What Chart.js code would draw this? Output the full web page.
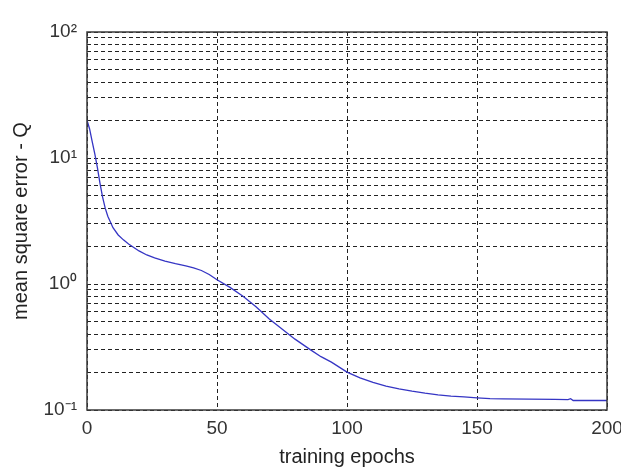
<!DOCTYPE html>
<html lang="en">
<head>
    <meta charset="UTF-8">
    <title>Training error</title>
    <script src="https://cdn.jsdelivr.net/npm/chart.js"></script>
    <style>
        html, body {
            margin: 0;
            padding: 0;
            background: #fff;
        }
        #chart {
            display: block;
        }
    </style>
</head>
<body>
    <canvas id="chart" width="621" height="472"></canvas>

    <script>
        // values
        const epochs = [0, 1, 2, 3, 4, 5, 6, 7, 8, 10, 12, 14, 16, 18, 20, 23, 26, 30, 34, 38, 41, 44, 47,
            50, 55, 60, 65, 70, 75, 80, 86, 90, 94, 100, 105, 110, 115, 120, 125, 130, 135, 140, 145,
            150, 155, 160, 170, 180, 185, 186, 187, 190, 200];
        const mse = [20, 17, 13.5, 10.8, 8.4, 6.3, 4.9, 4.0, 3.45, 2.8, 2.45, 2.24, 2.08, 1.95, 1.83, 1.7, 1.61,
            1.52, 1.45, 1.39, 1.34, 1.28, 1.19, 1.08, 0.94, 0.8, 0.66, 0.53, 0.44, 0.365, 0.30, 0.265, 0.24,
            0.2, 0.18, 0.166, 0.155, 0.147, 0.141, 0.136, 0.132, 0.129, 0.127, 0.125, 0.123, 0.1225,
            0.122, 0.1215, 0.121, 0.123, 0.119, 0.119, 0.119];

        const xTicks = [0, 50, 100, 150, 200];
        const yTicks = [0.1, 0.2, 0.3, 0.4, 0.5, 0.6, 0.7, 0.8, 0.9,
            1, 2, 3, 4, 5, 6, 7, 8, 9,
            10, 20, 30, 40, 50, 60, 70, 80, 90, 100];
        const yLabels = { 0.1: '10⁻¹', 1: '10⁰', 10: '10¹', 100: '10²' };

        const tickFont = { family: "'Liberation Sans', Arial, sans-serif", size: 19 };
        const titleFont = { family: "'Liberation Sans', Arial, sans-serif", size: 20 };

        // MATLAB style closed box around the axes
        const boxPlugin = {
            id: 'box',
            afterDatasetsDraw(chart) {
                const a = chart.chartArea;
                const ctx = chart.ctx;
                ctx.save();
                ctx.strokeStyle = '#3a3a3a';
                ctx.lineWidth = 1.5;
                ctx.strokeRect(a.left, a.top, a.right - a.left, a.bottom - a.top);
                ctx.restore();
            }
        };

        const ctx = document.getElementById('chart').getContext('2d');
        new Chart(ctx, {
            type: 'line',
            data: {
                datasets: [{
                    label: 'mse',
                    data: epochs.map((e, i) => ({ x: e, y: mse[i] })),
                    borderColor: '#3535c4',
                    borderWidth: 1.3,
                    pointRadius: 0,
                    tension: 0,
                    fill: false
                }]
            },
            options: {
                responsive: false,
                animation: false,
                layout: { padding: { top: 32, right: 14, left: 0, bottom: 0 } },
                plugins: {
                    legend: { display: false },
                    tooltip: { enabled: false }
                },
                scales: {
                    x: {
                        type: 'linear',
                        min: 0,
                        max: 200,
                        afterBuildTicks(scale) {
                            scale.ticks = xTicks.map(v => ({ value: v }));
                        },
                        afterFit(scale) {
                            scale.height = 62;
                            scale.paddingLeft = 0;
                            scale.paddingRight = 0;
                        },
                        border: { display: false, dash: [4, 3] },
                        grid: {
                            color: '#222',
                            lineWidth: 1,
                            drawTicks: false
                        },
                        ticks: {
                            padding: 7,
                            color: '#333',
                            font: tickFont,
                            maxRotation: 0
                        },
                        title: {
                            display: true,
                            text: 'training epochs',
                            color: '#222',
                            font: titleFont,
                            padding: { top: 0, bottom: 3 }
                        }
                    },
                    y: {
                        type: 'logarithmic',
                        min: 0.1,
                        max: 100,
                        afterBuildTicks(scale) {
                            scale.ticks = yTicks.map(v => ({ value: v }));
                        },
                        afterFit(scale) {
                            scale.width = 87;
                            scale.paddingTop = 0;
                            scale.paddingBottom = 0;
                        },
                        border: { display: false, dash: [4, 3] },
                        grid: {
                            color: '#222',
                            lineWidth: 1,
                            drawTicks: false
                        },
                        ticks: {
                            autoSkip: false,
                            padding: 10,
                            color: '#333',
                            font: tickFont,
                            callback: (v) => yLabels[v] || ''
                        },
                        title: {
                            display: true,
                            text: 'mean square error - Q',
                            color: '#222',
                            font: titleFont,
                            padding: { top: 9, bottom: 0 }
                        }
                    }
                }
            },
            plugins: [boxPlugin]
        });
    </script>
</body>
</html>
